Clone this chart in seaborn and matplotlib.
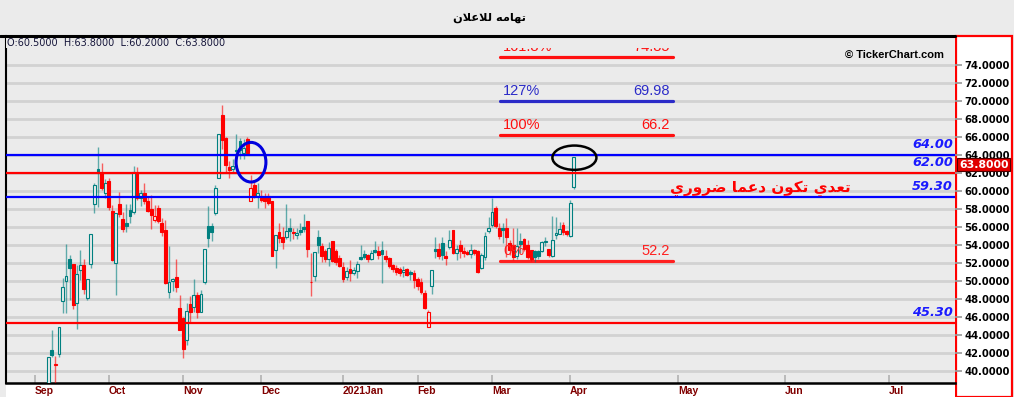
import numpy as np
import pandas as pd
import matplotlib
matplotlib.use("Agg")
import matplotlib.pyplot as plt
import matplotlib.transforms as mtransforms
from matplotlib.patches import Rectangle, Ellipse
from matplotlib.lines import Line2D
import seaborn as sns

# ---------------- data ----------------
opens = [38.0, 42.3, 40.7, 41.9, 47.8, 50.0, 52.4, 51.9, 47.5, 51.2,
         51.8, 48.1, 51.9, 58.6, 62.4, 62.0, 59.8, 61.1, 57.8, 52.0,
         58.6, 56.9, 56.4, 57.9, 57.7, 62.0, 59.2, 59.8, 58.9, 58.0,
         56.8, 58.1, 56.4, 55.7, 48.8, 50.0, 50.4, 47.0, 45.85, 43.4,
         47.4, 47.1, 48.45, 46.6, 49.9, 56.1, 56.1, 57.6, 61.4, 68.4,
         65.9, 62.7, 62.5, 64.6, 65.5, 64.2, 65.8, 58.9, 60.7, 59.4,
         59.45, 59.3, 59.4, 58.9, 53.4, 55.5, 54.9, 54.9, 55.9, 55.5,
         55.1, 55.7, 56.05, 56.7, 49.9, 50.6, 54.85, 53.9, 53.3, 52.4,
         54.4, 53.3, 52.6, 51.5, 50.4, 51.3, 50.85, 51.15, 52.7, 52.95,
         52.9, 52.5, 53.45, 53.3, 53.45, 52.8, 52.5, 51.8, 51.5, 51.3,
         50.95, 51.3, 51.0, 50.85, 50.2, 49.9, 48.7, 44.9, 49.4, 53.5,
         53.55, 54.2, 52.8, 53.8, 55.7, 53.1, 54.0, 53.3, 53.2, 52.95,
         53.45, 53.3, 51.4, 52.7, 55.6, 56.2, 58.1, 55.85, 55.85, 55.85,
         54.2, 54.0, 52.8, 54.4, 54.7, 54.0, 53.45, 53.3, 53.3, 53.3,
         54.3, 53.55, 52.8, 55.1, 55.2, 56.2, 55.5, 55.0, 60.5]
highs = [41.6, 44.6, 41.7, 44.85, 50.3, 54.1, 52.9, 51.9, 51.8, 53.4,
         52.4, 50.2, 55.2, 60.9, 64.9, 63.1, 61.3, 61.5, 58.4, 57.6,
         59.9, 57.7, 58.6, 58.6, 62.8, 62.7, 60.1, 60.9, 59.4, 59.6,
         58.4, 58.4, 57.0, 56.8, 53.9, 50.3, 52.4, 48.4, 46.0, 47.5,
         48.3, 50.2, 48.8, 49.0, 53.5, 58.3, 56.5, 60.7, 66.3, 69.6,
         66.0, 63.3, 63.6, 66.3, 65.9, 65.8, 66.0, 61.8, 61.0, 60.85,
         60.1, 59.8, 59.8, 58.9, 55.1, 56.4, 56.0, 58.6, 57.0, 55.9,
         55.85, 56.4, 57.4, 56.7, 53.1, 53.2, 55.7, 54.2, 53.6, 54.3,
         54.4, 53.6, 52.9, 52.1, 51.6, 52.3, 51.6, 52.2, 54.0, 53.4,
         53.0, 53.45, 54.4, 53.9, 54.4, 53.45, 52.7, 51.9, 51.8, 51.6,
         51.7, 51.4, 51.2, 51.2, 50.4, 50.3, 49.0, 46.8, 51.2, 54.9,
         54.2, 54.9, 53.3, 55.7, 55.7, 54.0, 54.6, 53.8, 53.4, 54.1,
         53.6, 53.4, 53.1, 55.5, 57.1, 59.2, 58.3, 56.4, 56.5, 57.0,
         54.6, 55.85, 55.85, 55.3, 54.8, 54.6, 53.5, 53.4, 53.4, 54.5,
         54.9, 53.6, 57.2, 57.1, 56.6, 56.6, 55.7, 59.0, 63.8]
lows = [37.5, 41.6, 38.3, 41.5, 46.4, 46.4, 47.9, 46.9, 44.7, 50.1,
        48.6, 47.9, 51.4, 57.6, 58.2, 60.1, 59.2, 57.9, 52.2, 48.4,
        57.1, 55.5, 55.4, 56.4, 57.5, 59.0, 58.3, 58.6, 57.7, 55.8,
        56.6, 56.4, 55.0, 49.7, 48.1, 48.9, 48.8, 44.6, 41.4, 42.9,
        45.3, 46.6, 45.9, 46.5, 49.7, 53.8, 54.5, 57.3, 61.4, 64.7,
        62.0, 61.4, 62.0, 63.3, 63.6, 63.6, 64.0, 58.9, 59.2, 58.15,
        58.8, 58.1, 58.4, 52.8, 51.5, 54.2, 53.6, 54.7, 54.4, 54.7,
        54.7, 55.1, 55.5, 52.7, 48.3, 50.0, 53.1, 52.1, 52.1, 51.7,
        52.1, 51.8, 51.6, 49.9, 50.1, 50.0, 50.7, 50.3, 52.3, 52.5,
        52.1, 52.3, 53.1, 52.5, 49.8, 52.1, 51.5, 51.0, 50.7, 50.6,
        50.4, 50.6, 50.1, 49.2, 49.0, 48.6, 46.9, 45.0, 48.6, 52.6,
        52.5, 52.3, 51.8, 53.6, 53.0, 52.3, 52.6, 52.7, 52.9, 52.6,
        52.9, 50.9, 51.3, 52.3, 55.3, 56.0, 55.9, 54.7, 54.2, 52.7,
        52.9, 52.3, 52.5, 53.1, 53.3, 52.5, 52.2, 52.15, 52.5, 53.2,
        53.9, 52.7, 52.7, 54.7, 55.2, 55.1, 55.0, 54.9, 60.2]
closes = [41.6, 41.8, 40.7, 44.85, 49.3, 50.6, 51.4, 47.3, 50.8, 51.8,
          49.1, 50.2, 55.2, 60.7, 62.0, 60.3, 60.9, 58.2, 52.3, 57.6,
          57.4, 55.8, 56.1, 57.2, 62.1, 59.2, 59.8, 58.9, 57.8, 57.3,
          57.2, 56.7, 55.4, 49.8, 49.9, 50.2, 49.3, 44.6, 42.4, 46.7,
          46.6, 48.45, 46.5, 48.6, 53.5, 54.8, 55.4, 60.3, 66.3, 65.7,
          62.9, 62.3, 62.8, 64.5, 64.6, 64.8, 64.2, 60.3, 59.5, 59.8,
          59.0, 58.9, 58.7, 52.8, 55.1, 54.8, 54.3, 55.5, 55.6, 55.3,
          55.35, 55.4, 55.75, 53.6, 49.85, 53.2, 54.0, 52.8, 52.4, 53.7,
          52.2, 52.1, 51.7, 50.2, 51.15, 50.9, 51.2, 51.9, 52.4, 52.7,
          52.4, 53.15, 53.2, 52.9, 53.0, 52.5, 51.7, 51.3, 51.0, 50.9,
          51.2, 50.7, 50.75, 50.1, 49.4, 48.8, 47.0, 46.5, 51.2, 53.35,
          52.8, 52.9, 52.6, 54.6, 53.15, 53.55, 53.3, 53.1, 53.0, 53.4,
          53.1, 51.0, 52.9, 55.0, 55.85, 57.7, 56.1, 55.0, 55.7, 54.9,
          53.4, 52.7, 53.9, 54.1, 53.6, 52.7, 52.4, 52.7, 52.8, 54.3,
          54.5, 52.9, 54.6, 55.3, 55.8, 55.4, 55.2, 58.7, 63.8]

month_labels = ["Sep", "Oct", "Nov", "Dec", "2021Jan", "Feb", "Mar",
                "Apr", "May", "Jun", "Jul"]
month_ticks = [-3.7, 17, 38, 60, 83, 104, 125, 147, 177.4, 207.5, 236.8]

level_values = [64.00, 62.00, 59.30, 45.30]
level_colors = ["#0000ff", "#ff0000", "#0000ff", "#ff0000"]

fib_labels = ["161.8%", "127%", "100%", "0%"]
fib_values = [74.85, 69.98, 66.2, 52.2]
fib_value_text = ["74.85", "69.98", "66.2", "52.2"]
fib_colors = ["#ff1010", "#2b2bc8", "#ff1010", "#ff2020"]

price_ticks = list(range(40, 76, 2))

title_text = "تهامه للاعلان"
note_text = "تعدي تكون دعما ضروري"

# ---------------- minimal Arabic shaping ----------------
_FORMS = {
    "ا": ("\uFE8D", "\uFE8E", None, None),
    "ت": ("\uFE95", "\uFE96", "\uFE97", "\uFE98"),
    "ه": ("\uFEE9", "\uFEEA", "\uFEEB", "\uFEEC"),
    "م": ("\uFEE1", "\uFEE2", "\uFEE3", "\uFEE4"),
    "ل": ("\uFEDD", "\uFEDE", "\uFEDF", "\uFEE0"),
    "ع": ("\uFEC9", "\uFECA", "\uFECB", "\uFECC"),
    "ن": ("\uFEE5", "\uFEE6", "\uFEE7", "\uFEE8"),
    "د": ("\uFEA9", "\uFEAA", None, None),
    "ي": ("\uFEF1", "\uFEF2", "\uFEF3", "\uFEF4"),
    "ك": ("\uFED9", "\uFEDA", "\uFEDB", "\uFEDC"),
    "و": ("\uFEED", "\uFEEE", None, None),
    "ض": ("\uFEBD", "\uFEBE", "\uFEBF", "\uFEC0"),
    "ر": ("\uFEAD", "\uFEAE", None, None),
    "LA": ("\uFEFB", "\uFEFC", None, None),
}


def shape_ar(text):
    out_words = []
    for word in text.split(" "):
        toks = []
        i = 0
        while i < len(word):
            if word[i] == "ل" and i + 1 < len(word) and word[i + 1] == "ا":
                toks.append("LA")
                i += 2
            else:
                toks.append(word[i])
                i += 1
        res = []
        for k, t in enumerate(toks):
            f = _FORMS.get(t)
            if f is None:
                res.append(t)
                continue
            jp = k > 0 and toks[k - 1] in _FORMS and _FORMS[toks[k - 1]][2] is not None
            jn = (f[2] is not None and k + 1 < len(toks) and toks[k + 1] in _FORMS)
            if jp and jn:
                res.append(f[3])
            elif jp:
                res.append(f[1])
            elif jn:
                res.append(f[2])
            else:
                res.append(f[0])
        out_words.append("".join(res))
    return " ".join(out_words)[::-1]


# ---------------- figure ----------------
sns.set_theme(style="white")
plt.rcParams["font.family"] = ["DejaVu Sans"]

W, H = 1014, 397
BG = "#ebebeb"
fig = plt.figure(figsize=(W / 100, H / 100), dpi=100, facecolor=BG)

AX_L, AX_R, AX_T, AX_B = 6, 955, 36, 383
ax = fig.add_axes([AX_L / W, 1 - AX_B / H, (AX_R - AX_L) / W, (AX_B - AX_T) / H])
ax.set_facecolor(BG)

# pixel mapping used for limits
BAR0_PX, BAR_PX = 48.3, 3.55
PRICE_REF_PX, PRICE_REF, PX_PER_UNIT = 65, 74.0, 9.0
ax.set_xlim((AX_L - BAR0_PX) / BAR_PX, (AX_R - BAR0_PX) / BAR_PX)
ax.set_ylim(PRICE_REF - (AX_B - PRICE_REF_PX) / PX_PER_UNIT,
            PRICE_REF + (PRICE_REF_PX - AX_T) / PX_PER_UNIT)
xlo, xhi = ax.get_xlim()

# right price panel and bottom label strip (figure decorations)
fig.patches.append(Rectangle((956 / W, 0), 56 / W, 1 - 36 / H, transform=fig.transFigure,
                             facecolor="white", edgecolor="#ff0000", lw=1.6, zorder=-1))
fig.patches.append(Rectangle((AX_L / W, 0), (AX_R - AX_L) / W, (H - AX_B) / H,
                             transform=fig.transFigure, facecolor="white",
                             edgecolor="none", zorder=-1))
fig.lines.append(Line2D([0, AX_R / W], [1 - 35.5 / H, 1 - 35.5 / H],
                        transform=fig.transFigure, color="black", lw=2.2))

# grid
ax.set_yticks(price_ticks)
ax.yaxis.grid(True, color="#d2d2d2", lw=2.0)
ax.xaxis.grid(False)
ax.set_axisbelow(True)

# candles
df = pd.DataFrame({"o": opens, "h": highs, "l": lows, "c": closes})
df["i"] = np.arange(len(df))
prev = df["c"].shift(1).fillna(df["o"])
df["up"] = df["c"] >= prev
df["filled"] = df["c"] < df["o"]
TEAL, RED = "#008080", "#ff0000"
col = np.where(df["up"], TEAL, RED)
ax.vlines(df["i"], df["l"], df["h"], colors=col, lw=1.0, alpha=0.6, zorder=3)
body_h = np.maximum((df["c"] - df["o"]).abs(), 0.08)
body_b = np.minimum(df["o"], df["c"])
face = [c if f else BG for c, f in zip(col, df["filled"])]
ax.bar(df["i"], body_h, bottom=body_b, width=0.8, color=face, edgecolor=col,
       linewidth=0.8, zorder=3.2)

# key horizontal levels (seaborn)
lv = pd.DataFrame({"x": np.tile([xlo, xhi], len(level_values)),
                   "y": np.repeat(level_values, 2),
                   "g": np.repeat(np.arange(len(level_values)), 2)})
sns.lineplot(data=lv, x="x", y="y", hue="g", palette=level_colors, lw=1.6,
             legend=False, ax=ax, estimator=None, sort=False, zorder=4)
up4 = mtransforms.offset_copy(ax.transData, fig=fig, x=0, y=4, units="dots")
lab_x = (953 - BAR0_PX) / BAR_PX
for v in level_values:
    ax.text(lab_x, v, f"{v:.2f}", transform=up4, ha="right", va="bottom",
            color="#1a1aff", fontsize=9.3, fontweight="bold", style="italic", zorder=5)

# fibonacci segments (seaborn)
f0, f1 = (500 - BAR0_PX) / BAR_PX, (673 - BAR0_PX) / BAR_PX
fb = pd.DataFrame({"x": np.tile([f0, f1], len(fib_values)),
                   "y": np.repeat(fib_values, 2),
                   "g": np.repeat(np.arange(len(fib_values)), 2)})
sns.lineplot(data=fb, x="x", y="y", hue="g", palette=fib_colors, lw=2.3,
             legend=False, ax=ax, estimator=None, sort=False, zorder=2)
up3 = mtransforms.offset_copy(ax.transData, fig=fig, x=0, y=3, units="dots")
for lab, v, vt, c in zip(fib_labels, fib_values, fib_value_text, fib_colors):
    ax.text(f0 + 0.9, v, lab, transform=up3, ha="left", va="bottom", color=c,
            fontsize=10.5, family="Liberation Sans", zorder=5)
    ax.text(f1 - 1.0, v, vt, transform=up3, ha="right", va="bottom", color=c,
            fontsize=10.5, family="Liberation Sans", zorder=5)

# annotation ellipses
ax.add_patch(Ellipse((57.1, 63.2), 8.4, 4.4, fill=False, edgecolor="#0000dd", lw=2.2, zorder=6))
ax.add_patch(Ellipse((len(df) - 1 + 0.2, highs[-1] - 0.1), 12.4, 2.7, fill=False,
                     edgecolor="black", lw=1.8, zorder=6))

# Arabic note
ax.text((760 - BAR0_PX) / BAR_PX, 60.35, shape_ar(note_text), ha="center", va="center",
        color="#ff0000", fontsize=11, fontweight="bold", zorder=6)

# strip covering top (OHLC info bar)
ax.add_patch(Rectangle((0, 1 - 12 / (AX_B - AX_T)), 1, 12 / (AX_B - AX_T),
                       transform=ax.transAxes, facecolor=BG, edgecolor="none",
                       zorder=7, clip_on=False))

# axes styling
ax.spines["right"].set_visible(False)
ax.spines["top"].set_visible(False)
ax.spines["left"].set_color("black")
ax.spines["left"].set_linewidth(1.5)
ax.spines["bottom"].set_color("black")
ax.spines["bottom"].set_linewidth(1.8)

ax.yaxis.tick_right()
ax.set_yticklabels([f"{p:.4f}" for p in price_ticks])
ax.tick_params(axis="y", which="both", right=True, left=False, direction="out",
               length=5, color="#9a9a9a", pad=1.5, labelsize=7.2, labelcolor="black")
for t in ax.get_yticklabels():
    t.set_fontweight("bold")

ax.set_xticks(month_ticks)
ax.set_xticklabels(month_labels, ha="left", color="#800000", fontsize=7.5,
                   fontweight="bold", family="Liberation Sans")
ax.tick_params(axis="x", bottom=True, direction="in", length=6, color="#b4b4b4",
               pad=2.5)
ax.set_xlabel("")
ax.set_ylabel("")

# last price tag
ax.annotate(f"{closes[-1]:.4f}", xy=(1, closes[-1]), xycoords=("axes fraction", "data"),
            xytext=(4, -3), textcoords="offset pixels", ha="left", va="top",
            color="white", fontsize=7.8, fontweight="bold", annotation_clip=False,
            bbox=dict(boxstyle="square,pad=0.15", facecolor="#e00000",
                      edgecolor="#500000", lw=0.8), zorder=10)

# header texts
fig.text(489 / W, 1 - 18 / H, shape_ar(title_text), ha="center", va="center",
         fontsize=8.2, fontweight="bold", color="black")
fig.text(7 / W, 1 - 43 / H,
         f"O:{opens[-1]:.4f}  H:{highs[-1]:.4f}  L:{lows[-1]:.4f}  C:{closes[-1]:.4f}",
         ha="left", va="center", fontsize=7.0, color="#15153a", zorder=8)
fig.text(944 / W, 1 - 55 / H, "© TickerChart.com", ha="right", va="center",
         fontsize=8, fontweight="bold", color="black", family="Liberation Sans", zorder=8)

fig.savefig("out.png", dpi=100, facecolor=BG)
